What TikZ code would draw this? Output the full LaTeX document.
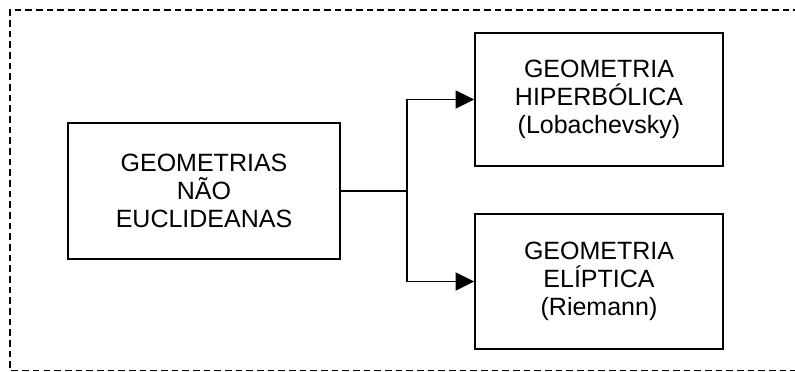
\documentclass[tikz,border=0pt]{standalone}
\usepackage{fontspec}
\setmainfont{Liberation Sans}
\usetikzlibrary{arrows.meta}

\begin{document}
\begin{tikzpicture}[x=0.75pt, y=-0.75pt, line width=1.1pt,
    box/.style={draw, rectangle, align=center, inner sep=0pt, font=\fontsize{18.75}{21}\selectfont},
    arr/.style={-{Triangle[length=14pt, width=13.5pt]}}]
    \useasboundingbox (0,0) rectangle (795,371);
    % dashed frame, open on the right
    \draw[line width=1pt, dash pattern=on 5pt off 3pt] (800,10) -- (10,10) -- (10,370.5) -- (800,370.5);
    \node[box, minimum width=204pt, minimum height=102pt] (geo) at (204,191) {GEOMETRIAS\\NÃO\\EUCLIDEANAS};
    \node[box, minimum width=186pt, minimum height=99.75pt] (hip) at (599,99.5) {GEOMETRIA\\HIPERBÓLICA\\(Lobachevsky)};
    \node[box, minimum width=186pt, minimum height=101.25pt] (eli) at (599,281.5) {GEOMETRIA\\ELÍPTICA\\(Riemann)};
    \coordinate (fork) at (407,191);
    \draw (geo.east) -- (fork);
    \draw[arr] (fork) |- (hip.west);
    \draw[arr] (fork) |- (eli.west);
\end{tikzpicture}
\end{document}
